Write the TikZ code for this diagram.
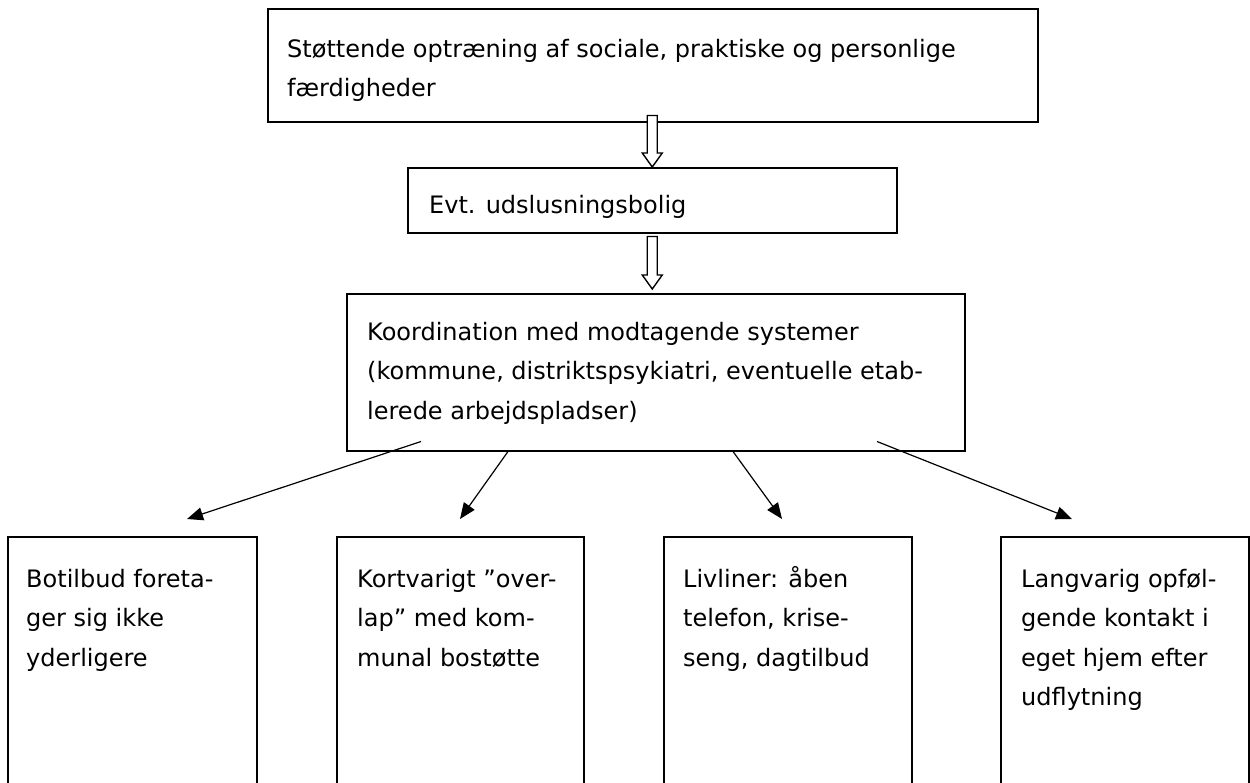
\documentclass[tikz,border=0pt]{standalone}
\usepackage{fontspec}
\setmainfont{DejaVu Sans}
\usetikzlibrary{calc,arrows.meta}
\begin{document}
\begin{tikzpicture}[x=1pt,y=-1pt,
  box/.style={draw, line width=1.5pt, rectangle, inner sep=0pt, anchor=north west},
  txt/.style={inner sep=0pt, align=left, anchor=base west, font=\fontsize{24}{39.5}\selectfont},
  conn/.style={line width=1.2pt, -{Triangle[length=16pt,width=13pt]}},
  hollow/.style={draw, line width=1.4pt, fill=white, line join=miter}]
\useasboundingbox[fill=white] (0,0) rectangle (1250,782);
% boxes
\node[box, minimum width=770pt, minimum height=113pt] (top) at (267,8) {};
\node[box, minimum width=489pt, minimum height=65pt] (evt) at (407,167) {};
\node[box, minimum width=618pt, minimum height=157pt] (koord) at (346,293) {};
\node[box, minimum width=249pt, minimum height=260pt] (b1) at (7,536) {};
\node[box, minimum width=247pt, minimum height=260pt] (b2) at (336,536) {};
\node[box, minimum width=248pt, minimum height=260pt] (b3) at (663,536) {};
\node[box, minimum width=248pt, minimum height=260pt] (b4) at (1000,536) {};
% texts (base anchor = baseline of the last line)
\node[txt] (ttop) at ($(top.north west)+(20,88.5)$) {Støttende optræning af sociale, praktiske og personlige\\færdigheder};
\node[txt] (tevt) at ($(evt.north west)+(22,46)$) {Evt. udslusningsbolig};
\node[txt] (tkoord) at ($(koord.north west)+(21,126)$) {Koordination med modtagende systemer\\(kommune, distriktspsykiatri, eventuelle etab-\\lerede arbejdspladser)};
\node[txt] (tb1) at ($(b1.north west)+(19,130)$) {Botilbud foreta-\\ger sig ikke\\yderligere};
\node[txt] (tb2) at ($(b2.north west)+(21,130)$) {Kortvarigt ”over-\\lap” med kom-\\munal bostøtte};
\node[txt] (tb3) at ($(b3.north west)+(20,130)$) {Livliner: åben\\telefon, krise-\\seng, dagtilbud};
\node[txt] (tb4) at ($(b4.north west)+(21,169.5)$) {Langvarig opføl-\\gende kontakt i\\eget hjem efter\\udflytning};
% hollow block arrows
\coordinate (a1s) at ($(evt.north |- top.south)+(0,-7)$);
\coordinate (a1e) at (evt.north);
\draw[hollow] ($(a1s)+(-5,0)$) -- ($(a1e)+(-5,-14)$) -- ($(a1e)+(-10,-14)$) -- (a1e)
  -- ($(a1e)+(10,-14)$) -- ($(a1e)+(5,-14)$) -- ($(a1s)+(5,0)$) -- cycle;
\coordinate (a2s) at ($(evt.south)+(0,3)$);
\coordinate (a2e) at ($(evt.south |- koord.north)+(0,-4)$);
\draw[hollow] ($(a2s)+(-5,0)$) -- ($(a2e)+(-5,-14)$) -- ($(a2e)+(-10,-14)$) -- (a2e)
  -- ($(a2e)+(10,-14)$) -- ($(a2e)+(5,-14)$) -- ($(a2s)+(5,0)$) -- cycle;
% line arrows
\coordinate (s1) at ($(koord.south west)+(75,-10)$);
\coordinate (s2) at ($(koord.south west)+(162,0)$);
\coordinate (s3) at ($(koord.south west)+(387,0)$);
\coordinate (s4) at ($(koord.south west)+(531,-10)$);
\coordinate (e1) at ($(b1.north west)+(180,-17)$);
\coordinate (e2) at ($(b2.north west)+(124,-17)$);
\coordinate (e3) at ($(b3.north west)+(119,-17)$);
\coordinate (e4) at ($(b4.north west)+(72,-17)$);
\draw[conn] (s1) -- (e1);
\draw[conn] (s2) -- (e2);
\draw[conn] (s3) -- (e3);
\draw[conn] (s4) -- (e4);
\end{tikzpicture}
\end{document}
